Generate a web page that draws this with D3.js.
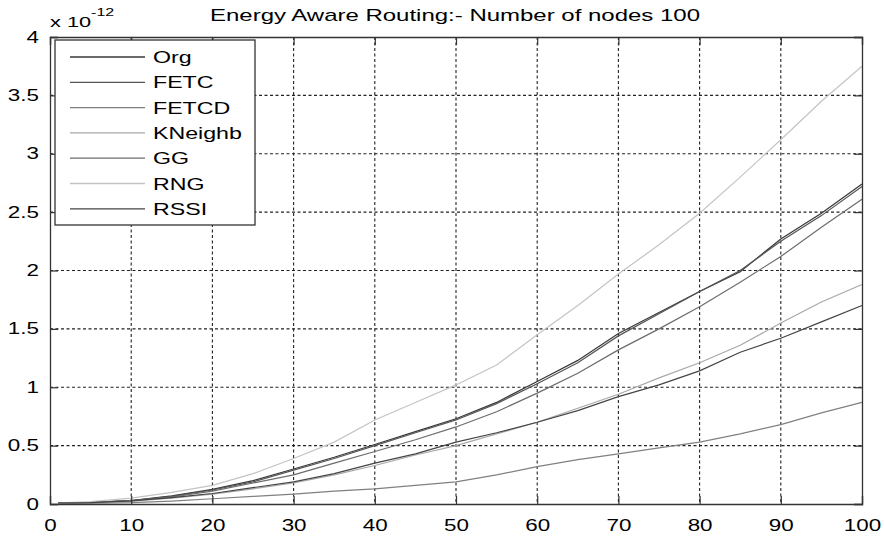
<!DOCTYPE html>
<html>
<head>
<meta charset="utf-8">
<script src="https://cdn.jsdelivr.net/npm/d3@7"></script>
<style>
  body { margin: 0; background: #fff; }
  text { font-family: "Liberation Sans", Arial, sans-serif; fill: #000; }
</style>
</head>
<body>
<script>
// node count (x) and energy values, in units of 1e-12
var nodes = [1,5,10,15,20,25,30,35,40,45,50,55,60,65,70,75,80,85,90,95,100];
var org     = [0.01,0.015,0.03,0.07,0.125,0.2,0.3,0.4,0.51,0.62,0.73,0.87,1.05,1.23,1.46,1.64,1.82,1.99,2.27,2.49,2.74];
var fetc    = [0.01,0.015,0.03,0.065,0.12,0.19,0.29,0.39,0.5,0.61,0.72,0.86,1.03,1.21,1.44,1.63,1.82,2.0,2.25,2.47,2.72];
var fetcd   = [0.005,0.008,0.012,0.025,0.045,0.065,0.085,0.11,0.13,0.16,0.19,0.25,0.32,0.38,0.43,0.48,0.53,0.6,0.68,0.78,0.87];
var kneighb = [0.01,0.012,0.025,0.05,0.085,0.13,0.18,0.25,0.33,0.42,0.5,0.6,0.7,0.82,0.94,1.08,1.21,1.36,1.55,1.73,1.88];
var gg      = [0.01,0.014,0.028,0.06,0.11,0.18,0.25,0.35,0.45,0.55,0.66,0.79,0.95,1.12,1.32,1.5,1.69,1.9,2.12,2.37,2.61];
var rng     = [0.01,0.02,0.05,0.1,0.16,0.26,0.39,0.53,0.72,0.87,1.02,1.19,1.45,1.7,1.97,2.22,2.49,2.8,3.12,3.45,3.75];
var rssi    = [0.01,0.012,0.027,0.055,0.09,0.14,0.19,0.26,0.35,0.43,0.53,0.61,0.7,0.8,0.92,1.02,1.14,1.3,1.42,1.56,1.7];

var seriesNames = ["Org","FETC","FETCD","KNeighb","GG","RNG","RSSI"];
var seriesValues = [org, fetc, fetcd, kneighb, gg, rng, rssi];
var xTicks = [0,10,20,30,40,50,60,70,80,90,100];
var yTicks = [0,0.5,1,1.5,2,2.5,3,3.5,4];

var colors = ["#383838","#555555","#808080","#a8a8a8","#6c6c6c","#c4c4c4","#444444"];

var margin = {top: 37, right: 22, bottom: 32, left: 50},
    width = 884 - margin.left - margin.right,
    height = 536 - margin.top - margin.bottom;

var SX = 1.4; // the picture's text is wide

function stretch(sel, sx) {
  sel.each(function() {
    var t = d3.select(this);
    var x = +t.attr("x") || 0, y = +t.attr("y") || 0;
    t.attr("x", 0).attr("y", 0)
     .attr("transform", "translate(" + x + "," + y + ") scale(" + (sx || SX) + ",1)");
  });
}

var svg = d3.select("body")
            .append("svg")
            .attr("width", 884)
            .attr("height", 536);

svg.append("rect").attr("width", 884).attr("height", 536).attr("fill", "#fff");

var g = svg.append("g")
           .attr("transform", "translate(" + margin.left + "," + margin.top + ")");

var xScale = d3.scaleLinear().domain([0,100]).range([0, width]);
var yScale = d3.scaleLinear().domain([0,4]).range([height, 0]);

// dotted grid
g.selectAll(".vgrid")
  .data(xTicks.slice(1, -1))
  .enter()
  .append("line")
  .attr("x1", function(d){ return xScale(d); })
  .attr("x2", function(d){ return xScale(d); })
  .attr("y1", 0).attr("y2", height)
  .attr("stroke", "#222").attr("stroke-width", 1.1)
  .attr("stroke-dasharray", "3,2.5");

g.selectAll(".hgrid")
  .data(yTicks.slice(1, -1))
  .enter()
  .append("line")
  .attr("y1", function(d){ return yScale(d); })
  .attr("y2", function(d){ return yScale(d); })
  .attr("x1", 0).attr("x2", width)
  .attr("stroke", "#222").attr("stroke-width", 1.1)
  .attr("stroke-dasharray", "3,2.5");

// series lines
var line = d3.line()
  .x(function(d,i){ return xScale(nodes[i]); })
  .y(function(d){ return yScale(d); });

seriesValues.forEach(function(vals, i) {
  g.append("path")
   .datum(vals)
   .attr("d", line)
   .attr("fill", "none")
   .attr("stroke", colors[i])
   .attr("stroke-width", 1.2);
});

// axes with inward ticks
var xAxis = g.append("g")
  .attr("transform", "translate(0," + height + ")")
  .call(d3.axisBottom(xScale).tickValues(xTicks).tickSize(-8).tickPadding(16).tickFormat(d3.format("d")));
var yAxis = g.append("g")
  .call(d3.axisLeft(yScale).tickValues(yTicks).tickSize(-8).tickPadding(11).tickFormat(function(d){ return d === 0 ? "0" : d3.format("")(d); }));
g.append("g")
  .call(d3.axisTop(xScale).tickValues(xTicks).tickSize(-8).tickFormat(""));
g.append("g")
  .attr("transform", "translate(" + width + ",0)")
  .call(d3.axisRight(yScale).tickValues(yTicks).tickSize(-8).tickFormat(""));

g.selectAll(".domain").attr("stroke", "#333").attr("stroke-width", 1.3);
g.selectAll(".tick line").attr("stroke", "#333").attr("stroke-width", 1.2);
g.selectAll(".tick text").style("font-size", "16px").attr("fill", "#000");
stretch(xAxis.selectAll(".tick text"));
stretch(yAxis.selectAll(".tick text"));

// exponent label
var expo = svg.append("text").attr("x", 50).attr("y", 27).style("font-size", "15px");
expo.append("tspan").text("x 10");
expo.append("tspan").attr("dy", -11).style("font-size", "11px").text("-12");
stretch(expo, 1.45);

// title
var title = svg.append("text")
  .attr("x", 455).attr("y", 21)
  .attr("text-anchor", "middle")
  .style("font-size", "16px")
  .text("Energy Aware Routing:- Number of nodes 100");
stretch(title, 1.5);

// legend
var legend = svg.append("g")
                .attr("transform", "translate(55,40)");

legend.append("rect")
      .attr("width", 200).attr("height", 185)
      .attr("fill", "#fff").attr("stroke", "#333").attr("stroke-width", 1.3);

var rowH = 25.3;

legend.selectAll("line.key")
      .data(seriesNames)
      .enter()
      .append("line")
      .attr("x1", 15).attr("x2", 90)
      .attr("y1", function(d,i){ return 17 + rowH*i; })
      .attr("y2", function(d,i){ return 17 + rowH*i; })
      .attr("stroke", function(d,i){ return colors[i]; })
      .attr("stroke-width", 1.3);

var keyText = legend.selectAll("text")
      .data(seriesNames)
      .enter()
      .append("text")
      .attr("x", 98)
      .attr("y", function(d,i){ return 23 + rowH*i; })
      .style("font-size", "16px")
      .text(function(d){ return d; });
stretch(keyText, 1.45);
</script>
</body>
</html>
